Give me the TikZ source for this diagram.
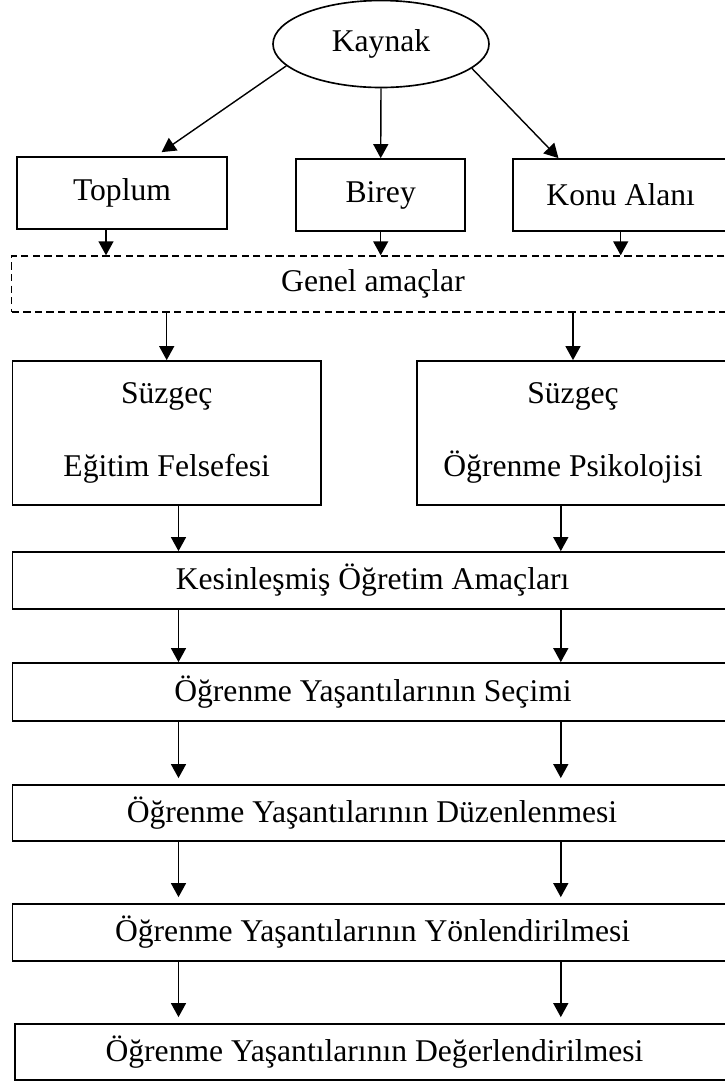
\documentclass[tikz,border=0pt]{standalone}
\usepackage{fontspec}
\setmainfont{Liberation Serif}
\usetikzlibrary{shapes.geometric,arrows.meta}

\tikzset{
  box/.style={draw, rectangle, line width=1.5pt, inner sep=0pt},
  arr/.style={-{Triangle[length=0.42cm,width=0.45cm]}, line width=1.2pt},
}

\begin{document}
\begin{tikzpicture}[x=0.03cm, y=-0.03cm, font=\fontsize{27}{32}\selectfont]
    \useasboundingbox (0,0) rectangle (725,1081);
    \clip (0,0) rectangle (725,1081);

    % kaynak ve alt kutular
    \node[draw, ellipse, line width=1.4pt, minimum width=6.48cm, minimum height=2.61cm, inner sep=0pt] (kaynak) at (381,44) {Kaynak};
    \node[box, minimum width=6.3cm, minimum height=2.16cm] (toplum) at (122,193) {Toplum};
    \node[box, minimum width=5.06cm, minimum height=2.16cm] (birey) at (380.7,195) {Birey};
    \node[box, minimum width=6.48cm, minimum height=2.16cm] (konu) at (620.7,195) {Konu Alanı};

    \node[box, dashed, line width=1.2pt, dash pattern=on 6.2pt off 3.7pt, minimum width=21.68cm, minimum height=1.68cm] (genel) at (373,284) {Genel amaçlar};

    % süzgeçler
    \node[box, minimum width=9.25cm, minimum height=4.32cm, align=center] (suz1) at (166.7,433) {Süzgeç\\[30pt]Eğitim Felsefesi};
    \node[box, minimum width=9.36cm, minimum height=4.32cm, align=center] (suz2) at (573,433) {Süzgeç\\[30pt]Öğrenme Psikolojisi};

    % süreç
    \node[box, minimum width=21.6cm, minimum height=1.71cm] (kesin) at (372.6,580.5) {Kesinleşmiş Öğretim Amaçları};
    \node[box, minimum width=21.63cm, minimum height=1.74cm] (secim) at (373,692) {Öğrenme Yaşantılarının Seçimi};
    \node[box, minimum width=21.57cm, minimum height=1.68cm] (duzen) at (372,813) {Öğrenme Yaşantılarının Düzenlenmesi};
    \node[box, minimum width=21.61cm, minimum height=1.71cm] (yon) at (372.6,932.5) {Öğrenme Yaşantılarının Yönlendirilmesi};
    \node[box, minimum width=21.57cm, minimum height=1.68cm] (deger) at (374.5,1052) {Öğrenme Yaşantılarının Değerlendirilmesi};

    \coordinate (lcol) at (178.5,0);
    \coordinate (rcol) at (560.8,0);
    \coordinate (cTop) at ([xshift=-0.48cm]toplum.south);

    \draw[arr] (kaynak.193) -- ([xshift=1.19cm,yshift=0.12cm]toplum.north);
    \draw[arr] (kaynak.south) -- (birey.north);
    \draw[arr] (kaynak.345) -- ([xshift=1.4cm]konu.north west);

    \draw[arr] (cTop) -- (cTop |- genel.north);
    \draw[arr] (birey.south) -- (birey.south |- genel.north);
    \draw[arr] (konu.south) -- (konu.south |- genel.north);

    \draw[arr] (suz1.north |- genel.south) -- (suz1.north);
    \draw[arr] (suz2.north |- genel.south) -- (suz2.north);

    \draw[arr] (suz1.south -| lcol) -- (kesin.north -| lcol);
    \draw[arr] (suz2.south -| rcol) -- (kesin.north -| rcol);
    \draw[arr] (kesin.south -| lcol) -- (secim.north -| lcol);
    \draw[arr] (kesin.south -| rcol) -- (secim.north -| rcol);
    \draw[arr, shorten >=0.18cm] (secim.south -| lcol) -- (duzen.north -| lcol);
    \draw[arr, shorten >=0.18cm] (secim.south -| rcol) -- (duzen.north -| rcol);
    \draw[arr, shorten >=0.18cm] (duzen.south -| lcol) -- (yon.north -| lcol);
    \draw[arr, shorten >=0.18cm] (duzen.south -| rcol) -- (yon.north -| rcol);
    \draw[arr, shorten >=0.18cm] (yon.south -| lcol) -- (deger.north -| lcol);
    \draw[arr, shorten >=0.18cm] (yon.south -| rcol) -- (deger.north -| rcol);
\end{tikzpicture}
\end{document}
